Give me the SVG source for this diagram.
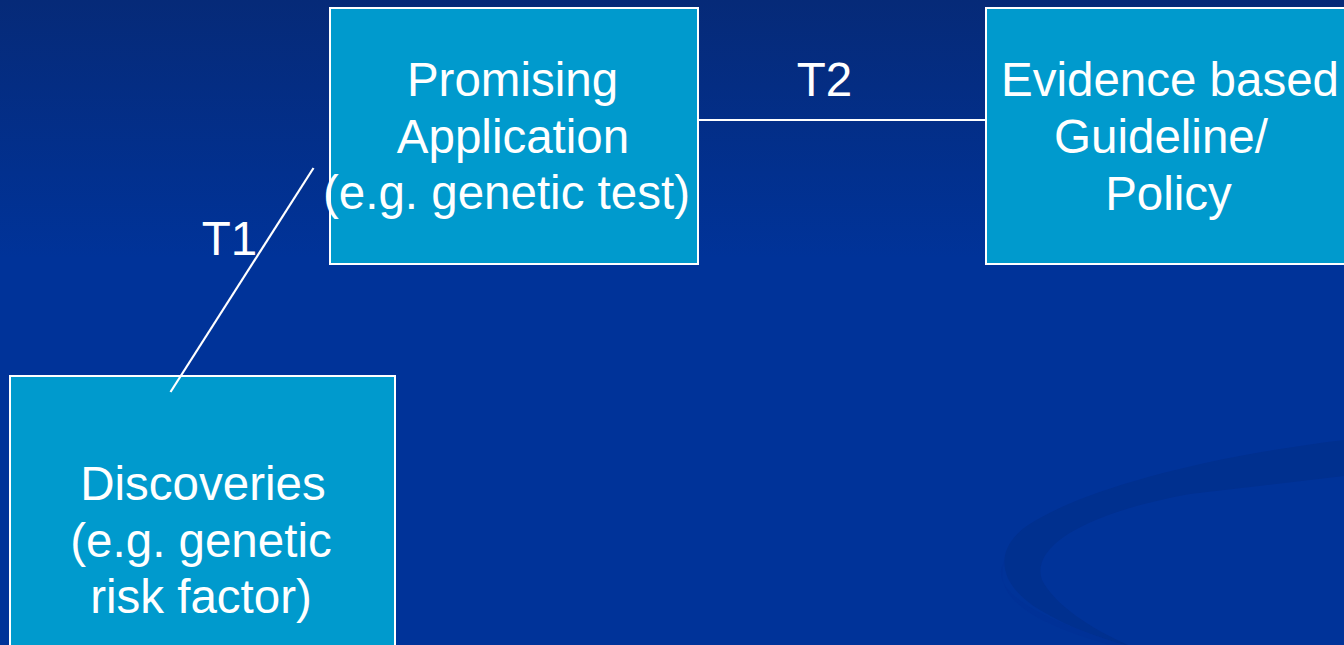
<svg xmlns="http://www.w3.org/2000/svg" width="1344" height="645" viewBox="0 0 1344 645">
  <defs>
    <linearGradient id="bg" x1="0" y1="0" x2="0" y2="1">
      <stop offset="0" stop-color="#062a78"/>
      <stop offset="0.4" stop-color="#003399"/>
      <stop offset="1" stop-color="#003399"/>
    </linearGradient>
    <style>
      .box { fill: #009acd; stroke: #ffffff; stroke-width: 2; }
      .label { font-family: "Liberation Sans", Arial, sans-serif; font-size: 47.5px; fill: #ffffff; text-anchor: middle; }
      .link { stroke: #ffffff; stroke-width: 2.2; fill: none; }
    </style>
  </defs>

  <!-- backdrop -->
  <rect x="0" y="0" width="1344" height="645" fill="url(#bg)"/>
  <!-- decorative swoosh, lower right -->
  <path d="M1344,440 C1210,456 1085,488 1028,525 C992,550 998,585 1040,610 C1068,627 1100,638 1125,645 L1128,645 C1090,628 1055,605 1042,580 C1030,545 1090,512 1190,494 L1344,476 Z" fill="#00308f"/>
  <path d="M1005,560 C985,590 1040,620 1125,645 L1110,645 C1040,625 990,600 1005,560 Z" fill="#003196" opacity="0.8"/>

  <g id="discoveries">
    <rect class="box" x="10" y="376" width="385" height="300"/>
    <text class="label" x="203" y="500">Discoveries</text>
    <text class="label" x="201" y="557">(e.g. genetic</text>
    <text class="label" x="201" y="613">risk factor)</text>
  </g>

  <g id="application">
    <rect class="box" x="330" y="8" width="368" height="256"/>
    <text class="label" x="512.5" y="96">Promising</text>
    <text class="label" x="513" y="152.5">Application</text>
    <text class="label" x="506.5" y="209">(e.g. genetic test)</text>
  </g>

  <g id="guideline">
    <rect class="box" x="986" y="8" width="370" height="256"/>
    <text class="label" x="1170" y="96">Evidence based</text>
    <text class="label" x="1161" y="153">Guideline/</text>
    <text class="label" x="1168.5" y="210">Policy</text>
  </g>

  <!-- connectors, drawn over the boxes -->
  <g id="connectors">
    <line class="link" x1="313.5" y1="168" x2="170.5" y2="392"/>
    <line class="link" x1="698" y1="120" x2="985" y2="120"/>
    <text class="label" x="229.5" y="255">T1</text>
    <text class="label" x="824.5" y="96">T2</text>
  </g>
</svg>
